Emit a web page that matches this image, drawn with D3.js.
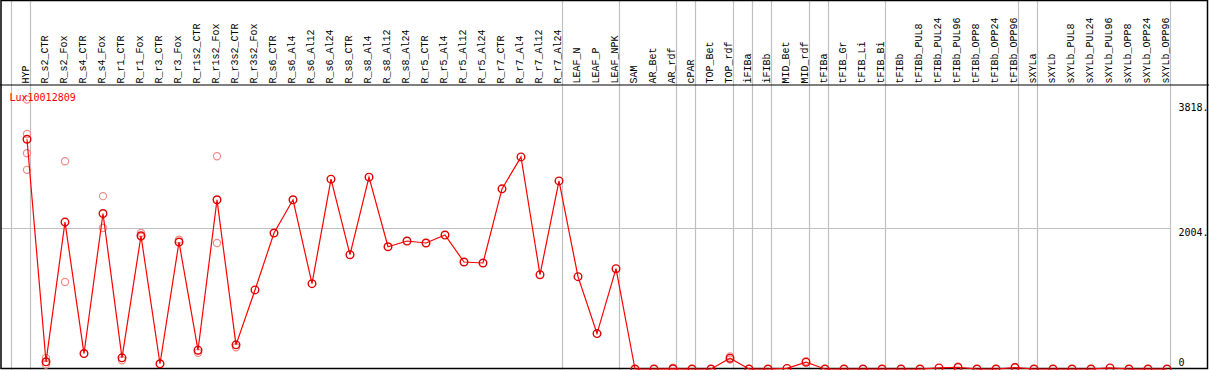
<!DOCTYPE html>
<html>
<head>
<meta charset="utf-8">
<script src="https://cdn.jsdelivr.net/npm/d3@7"></script>
<style>
    body { margin: 0; background: #fff; }
    svg { display: block; }
    text { font-family: "DejaVu Sans Mono", "Liberation Mono", monospace; font-size: 10px; }
    .sample { font-family: "Liberation Mono", "DejaVu Sans Mono", monospace; font-size: 10px; }
</style>
</head>
<body>
<svg width="1209" height="370"></svg>
<script>
var categories = ["HYP", "R_s2_CTR", "R_s2_Fox", "R_s4_CTR", "R_s4_Fox", "R_r1_CTR", "R_r1_Fox",
    "R_r3_CTR", "R_r3_Fox", "R_r1s2_CTR", "R_r1s2_Fox", "R_r3s2_CTR", "R_r3s2_Fox", "R_s6_CTR",
    "R_s6_Al4", "R_s6_Al12", "R_s6_Al24", "R_s8_CTR", "R_s8_Al4", "R_s8_Al12", "R_s8_Al24",
    "R_r5_CTR", "R_r5_Al4", "R_r5_Al12", "R_r5_Al24", "R_r7_CTR", "R_r7_Al4", "R_r7_Al12", "R_r7_Al24",
    "LEAF_N", "LEAF_P", "LEAF_NPK", "SAM", "AR_Bet", "AR_rdf", "cPAR", "TOP_Bet", "TOP_rdf",
    "iFIBa", "iFIBb", "MID_Bet", "MID_rdf", "tFIBa", "tFIB_Gr", "tFIB_Li", "tFIB_Bi", "tFIBb",
    "tFIBb_PUL8", "tFIBb_PUL24", "tFIBb_PUL96", "tFIBb_OPP8", "tFIBb_OPP24", "tFIBb_OPP96",
    "sXYLa", "sXYLb", "sXYLb_PUL8", "sXYLb_PUL24", "sXYLb_PUL96", "sXYLb_OPP8", "sXYLb_OPP24", "sXYLb_OPP96"];

// mean expression per sample
var means = [3255, 102, 2081, 219, 2203, 158, 1888,
    74, 1799, 266, 2397, 342, 1120, 1926,
    2397, 1209, 2689, 1619, 2718, 1732, 1813,
    1785, 1898, 1516, 1502, 2552, 3005, 1336, 2665,
    1308, 502, 1421, 0, 0, 3, 0, 0, 153,
    0, 0, 8, 96, 0, 0, 0, 0, 0,
    0, 15, 22, 0, 0, 20,
    0, 0, 0, 0, 15, 0, 0, 0];

// individual replicates that show apart from the mean
var repSamples = ["HYP", "HYP", "HYP", "HYP", "R_s2_CTR", "R_s2_CTR", "R_s2_Fox", "R_s2_Fox",
    "R_s4_Fox", "R_s4_Fox", "R_r1_CTR", "R_r1_Fox", "R_r1_Fox", "R_r3_Fox", "R_r1s2_CTR",
    "R_r1s2_Fox", "R_r1s2_Fox", "R_r3s2_CTR", "AR_rdf", "TOP_rdf", "TOP_rdf", "MID_rdf",
    "tFIBb_PUL96", "tFIBb_OPP96"];
var repValues = [3818, 3330, 3057, 2821, 158, 64, 2944, 1233,
    2449, 1997, 124, 1926, 1874, 1831, 229,
    3015, 1785, 308, 20, 177, 134, 110,
    35, 30];

// samples after which a group separator is drawn
var groupEnds = ["HYP", "R_r7_Al24", "LEAF_NPK", "AR_rdf", "cPAR", "TOP_rdf", "iFIBa", "iFIBb",
    "MID_rdf", "tFIBa", "tFIB_Bi", "tFIBb_OPP96", "sXYLa", "sXYLb_OPP96"];

var yTicks = [3818, 2004, 0];
var probeName = "Lux10012809";

var svg = d3.select("svg"),
    width = +svg.attr("width"),
    height = +svg.attr("height"),
    headerBottom = 85,
    plotRight = 1170;

var x = d3.scalePoint()
    .domain(categories)
    .range([27, 1167]);

var step = x.step();

var y = d3.scaleLinear()
    .domain([0, 3818])
    .range([369, 99.5]);

var crisp = function (v) {
    return Math.round(v) + 0.5;
};

// group separators (one before the first sample too)
var sepX = [x(categories[0]) - step + 3.5].concat(groupEnds.map(function (c) {
    return x(c) + 3.5;
}));

svg.append("g")
    .selectAll("line")
    .data(sepX)
    .enter().append("line")
    .attr("x1", function (d) { return crisp(d) - 1; })
    .attr("x2", function (d) { return crisp(d) - 1; })
    .attr("y1", 0)
    .attr("y2", height)
    .attr("stroke", "#c0c0c0")
    .attr("stroke-width", 1.2);

// horizontal grid at the middle tick
svg.append("line")
    .attr("x1", 1)
    .attr("x2", plotRight)
    .attr("y1", crisp(y(yTicks[1])))
    .attr("y2", crisp(y(yTicks[1])))
    .attr("stroke", "#c0c0c0")
    .attr("stroke-width", 1.2);

// frame
svg.append("rect")
    .attr("x", 1)
    .attr("y", 0.5)
    .attr("width", width - 2.5)
    .attr("height", height - 2)
    .attr("fill", "none")
    .attr("stroke", "#000")
    .attr("stroke-width", 1.5);

svg.append("line")
    .attr("x1", 0)
    .attr("x2", width)
    .attr("y1", headerBottom)
    .attr("y2", headerBottom)
    .attr("stroke", "#000")
    .attr("stroke-width", 1.2);

// sample labels, rotated
svg.append("g")
    .selectAll("text")
    .data(categories)
    .enter().append("text")
    .attr("class", "sample")
    .attr("transform", function (d) {
        return "translate(" + (x(d) + 2) + "," + (headerBottom - 1.5) + ") rotate(-90)";
    })
    .attr("fill", "#000")
    .text(function (d) { return d; });

// right-hand value labels
svg.append("g")
    .selectAll("text")
    .data(yTicks)
    .enter().append("text")
    .attr("x", 1178.5)
    .attr("y", function (d) {
        return Math.max(110.5, Math.min(365.5, y(d) + 8));
    })
    .attr("fill", "#000")
    .text(function (d) { return d === 0 ? "0" : d + "."; });

// replicates
svg.append("g")
    .selectAll("circle")
    .data(repValues)
    .enter().append("circle")
    .attr("cx", function (d, i) { return x(repSamples[i]); })
    .attr("cy", function (d) { return y(d); })
    .attr("r", 3.6)
    .attr("fill", "none")
    .attr("stroke", "#f08c8c")
    .attr("stroke-width", 1.2);

var line = d3.line()
    .x(function (d, i) { return x(categories[i]); })
    .y(function (d) { return y(d); });

svg.append("path")
    .datum(means)
    .attr("fill", "none")
    .attr("stroke", "#ff0000")
    .attr("stroke-width", 1.2)
    .attr("d", line);

svg.append("g")
    .selectAll("circle")
    .data(means)
    .enter().append("circle")
    .attr("cx", function (d, i) { return x(categories[i]); })
    .attr("cy", function (d) { return y(d); })
    .attr("r", 3.8)
    .attr("fill", "none")
    .attr("stroke", "#e00000")
    .attr("stroke-width", 1.4);

svg.append("text")
    .attr("x", 9.5)
    .attr("y", 100.5)
    .attr("fill", "#ff0000")
    .text(probeName);
</script>
</body>
</html>
